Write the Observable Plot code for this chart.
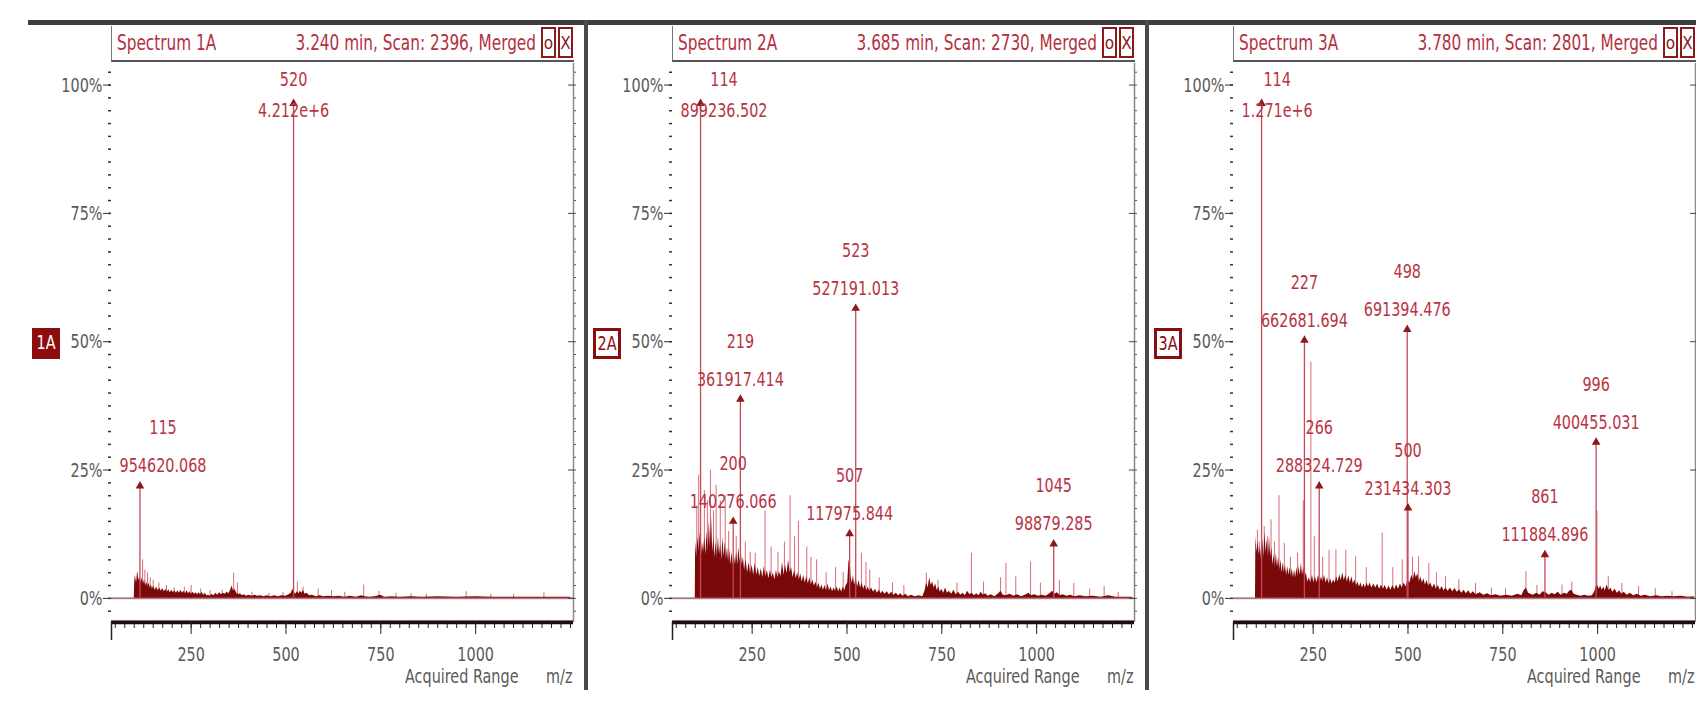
<!DOCTYPE html>
<html>
<head>
<meta charset="utf-8">
<script src="https://cdn.jsdelivr.net/npm/d3@7"></script>
<script src="https://cdn.jsdelivr.net/npm/@observablehq/plot@0.6"></script>
<style>
  body { margin: 0; background: #fff; }
  #wrap { position: relative; width: 1696px; height: 706px; overflow: hidden; background: #fff; }
  .topbar { position: absolute; left: 28px; right: 0; top: 20px; height: 5px; background: #3c3c3c; }
  .sep { position: absolute; top: 20px; height: 670px; width: 4px; background: #4a4a4a; }
  .panel { position: absolute; top: 0; width: 562px; height: 706px; }
  .panel svg { position: absolute; left: 0; top: 0; overflow: visible; }
  .hdr { position: absolute; left: 90px; width: 462px; top: 26px; height: 34px;
         border-left: 1px solid #777; border-bottom: 2px solid #555; color: #b3303e; }
  .hdr .l, .hdr .r { position: absolute; top: 6px; display: inline-block; transform: scaleY(1.25); }
  .hdr .l { left: 5px; transform-origin: left center; }
  .hdr .r { right: 38px; transform-origin: right center; }
  .hdr .b { position: absolute; top: 1px; width: 15px; height: 31px; border: 2px solid #8b1a1a;
            color: #8b1a1a; text-align: center; line-height: 28px; box-sizing: border-box; }
  .tag { position: absolute; left: 11px; top: 328px; width: 28px; height: 31px; box-sizing: border-box;
         text-align: center; line-height: 29px; }
  .tag span { display: inline-block; transform: scaleY(1.25); }
  .tag.fill { background: #8b0d0d; color: #fff; }
  .tag.open { background: #fff; color: #8b0d0d; border: 3px solid #8b0d0d; line-height: 25px; }
</style>
</head>
<body>
<div id="wrap"></div>
<script>
// ---------- data ----------
const panelNames = ["Spectrum 1A", "Spectrum 2A", "Spectrum 3A"];
const panelInfo = ["3.240 min, Scan: 2396, Merged", "3.685 min, Scan: 2730, Merged", "3.780 min, Scan: 2801, Merged"];
const panelTags = ["1A", "2A", "3A"];
const yTicks = [0, 25, 50, 75, 100];
const xTicks = [250, 500, 750, 1000];
const xDomain = [40, 1258];
const yDomain = [-4.7, 104.2];

// labelled peaks: m/z, relative height (%), intensity label
const peaks1 = [
  {mz: 520, pct: 96.4, inten: "4.212e+6"},
  {mz: 115, pct: 21.9, inten: "954620.068"}
];
const peaks2 = [
  {mz: 114, pct: 96.4, inten: "899236.502"},
  {mz: 219, pct: 38.8, inten: "361917.414"},
  {mz: 200, pct: 15.0, inten: "140276.066"},
  {mz: 523, pct: 56.5, inten: "527191.013"},
  {mz: 507, pct: 12.6, inten: "117975.844"},
  {mz: 1045, pct: 10.6, inten: "98879.285"}
];
const peaks3 = [
  {mz: 114, pct: 96.4, inten: "1.271e+6"},
  {mz: 227, pct: 50.3, inten: "662681.694"},
  {mz: 266, pct: 21.9, inten: "288324.729"},
  {mz: 498, pct: 52.4, inten: "691394.476"},
  {mz: 500, pct: 17.6, inten: "231434.303"},
  {mz: 861, pct: 8.5, inten: "111884.896"},
  {mz: 996, pct: 30.4, inten: "400455.031"}
];

// dense low-level signal (m/z, %)
const noise1 = [[100,0],[101,3],[103,4.5],[106,3],[109,5],[112,3.5],[115,4.2],[118,3],[121,4],[124,2.8],[127,3.6],[130,2.4],[133,3.2],[136,2.2],[139,3],[142,2],[145,2.6],[148,1.8],[151,2.4],[155,1.6],[159,2.2],[163,1.5],[167,2],[171,1.4],[175,1.9],[179,1.3],[183,1.8],[187,1.2],[191,1.7],[195,1.1],[199,1.6],[203,1.1],[207,1.5],[211,1],[215,1.5],[219,1],[223,1.6],[227,1],[231,1.4],[235,0.9],[239,1.5],[243,0.9],[247,1.3],[251,0.8],[255,1.2],[259,0.8],[263,1.1],[267,0.7],[271,1.1],[275,0.7],[279,1.2],[283,0.6],[287,1],[291,0.5],[296,0.6],[300,0.4],[305,0.8],[310,0.5],[315,1],[320,0.6],[325,1.1],[330,0.7],[335,1],[340,0.8],[345,1.2],[350,0.9],[354,1.6],[358,2.4],[362,1.4],[366,1.8],[370,1],[375,0.7],[380,0.9],[385,0.5],[390,0.7],[396,0.4],[402,0.6],[410,0.4],[418,0.6],[426,0.4],[434,0.5],[442,0.3],[450,0.5],[460,0.3],[470,0.5],[480,0.3],[490,0.5],[500,0.4],[508,0.7],[514,1],[518,1.8],[522,1.2],[526,0.8],[530,1.3],[534,0.9],[538,1.4],[542,1],[546,1.6],[550,0.8],[556,1],[562,0.5],[570,0.6],[580,0.3],[590,0.5],[600,0.3],[612,0.4],[625,0.3],[640,0.4],[655,0.2],[670,0.4],[685,0.2],[700,0.5],[708,0.3],[720,0.2],[735,0.3],[750,0.6],[760,0.2],[780,0.3],[800,0.2],[830,0.3],[860,0.2],[900,0.3],[950,0.2],[1000,0.3],[1050,0.2],[1100,0.2],[1150,0.2],[1200,0.2],[1250,0.2]];
const noise2 = [[100,0],[101,11],[104,8],[107,12],[110,9],[113,13],[116,8],[119,11],[122,9],[125,12],[128,8.5],[131,13],[134,9],[137,15],[140,10],[143,16],[146,9],[149,12],[152,8],[155,11],[158,8],[161,12],[164,8.5],[167,10.5],[170,7.5],[173,12],[176,8],[179,11],[182,7.5],[185,10],[188,7],[191,9.5],[194,6.5],[197,9],[200,6.5],[203,8.5],[206,6.5],[209,9],[212,6.5],[215,10],[218,7],[221,9.5],[224,6.5],[227,8],[230,5.5],[234,7.5],[238,5],[242,7],[246,4.8],[250,6.5],[254,4.5],[258,6.8],[262,4.5],[266,6],[270,4.2],[274,5.8],[278,4],[282,6.2],[286,4.2],[290,5.5],[294,3.8],[298,5.5],[302,4],[306,5],[310,3.6],[314,5.5],[318,4],[322,5.2],[326,4.2],[330,7],[334,4.5],[338,6.5],[342,4.8],[346,7.5],[350,5],[354,6],[358,4],[362,5.5],[366,3.8],[370,5],[374,3.5],[378,4.8],[382,3.2],[386,4.5],[390,3],[394,4.2],[398,2.8],[402,4],[406,2.6],[410,3.6],[414,2.4],[418,3.2],[422,2],[426,3],[430,1.8],[434,2.6],[438,1.6],[442,2.5],[446,1.5],[450,2.8],[454,1.5],[458,2.2],[462,1.3],[466,2],[470,1.4],[474,2.2],[478,1.3],[482,2],[486,1.2],[490,2.2],[494,1.5],[498,2.5],[502,3],[505,7],[508,8],[511,4],[514,3],[517,4.5],[520,2.5],[524,4],[528,2.2],[532,3.5],[536,2],[540,3],[544,1.8],[548,2.6],[552,1.5],[556,2.2],[560,1.4],[565,2],[570,1.2],[575,1.8],[580,1],[585,1.6],[590,0.9],[595,1.4],[600,0.8],[606,1.3],[612,0.7],[618,1.2],[624,0.6],[630,1],[636,0.5],[642,0.9],[648,0.4],[655,0.8],[662,0.3],[670,0.6],[680,0.3],[690,0.5],[700,0.3],[706,1.5],[710,3],[714,2],[718,4],[722,2.5],[726,3.2],[730,2],[734,2.8],[738,1.5],[742,2.2],[746,1.2],[750,1.8],[755,1],[760,2],[765,1],[770,1.4],[776,0.8],[782,1.6],[788,0.7],[794,1.2],[800,0.6],[806,1],[812,0.5],[818,1.4],[824,0.7],[830,1],[836,0.5],[842,0.9],[848,0.5],[854,1.2],[860,0.6],[866,0.9],[872,0.4],[880,0.7],[890,0.3],[900,0.9],[906,1.4],[912,0.6],[920,0.5],[930,0.8],[940,0.4],[950,0.7],[960,0.3],[970,0.6],[980,1],[986,0.5],[995,0.7],[1005,0.4],[1015,0.6],[1025,0.4],[1035,0.9],[1042,1.4],[1048,0.8],[1055,1.1],[1062,0.5],[1070,0.7],[1080,0.4],[1090,0.6],[1100,0.3],[1115,0.5],[1130,0.3],[1150,0.4],[1170,0.2],[1190,0.5],[1210,0.2],[1230,0.2],[1252,0.2]];
const noise3 = [[98,0],[99,12],[102,9],[105,11],[108,8.5],[111,10],[114,7.5],[117,11.5],[120,8],[123,13],[126,9],[129,11.5],[132,8],[135,12],[138,8],[141,10],[144,6.5],[147,8.5],[150,6],[153,8.8],[156,6],[159,8],[162,5.5],[165,7.5],[168,5],[171,7],[174,5],[177,6.5],[180,4.5],[183,6.2],[186,4.5],[189,6],[192,4.2],[195,5.8],[198,4],[201,5.5],[204,4],[207,6],[210,4.2],[213,6.2],[216,4.5],[219,6.8],[222,4.5],[225,6],[228,3.8],[232,5],[236,3.2],[240,4],[244,3],[248,4.5],[252,3],[256,4.2],[260,3],[264,4.5],[268,3],[272,4.2],[276,3.2],[280,4.5],[284,3],[288,4],[292,2.8],[296,3.8],[300,2.8],[304,3.6],[308,3],[312,4.2],[316,3.2],[320,4.6],[324,3.5],[328,5],[332,3.5],[336,4.5],[340,3.2],[344,4.4],[348,3],[352,4.2],[356,2.8],[360,3.6],[364,2.4],[368,3.2],[372,2.2],[376,3],[380,2],[384,2.8],[388,2],[392,3],[396,2.2],[400,3],[405,2],[410,2.8],[415,2],[420,2.8],[425,1.8],[430,2.6],[435,1.8],[440,2.5],[445,1.6],[450,2.4],[455,1.6],[460,2.5],[465,1.7],[470,2.6],[475,1.8],[480,2.8],[485,2],[490,3],[495,2.2],[500,3.5],[505,3],[510,4.5],[514,3.5],[518,5.2],[522,4],[526,4.8],[530,3.2],[534,4.2],[538,3],[542,3.8],[546,2.6],[550,3.5],[555,2.4],[560,3],[565,2],[570,2.8],[575,1.8],[580,2.5],[585,1.6],[590,2.3],[595,1.5],[600,2],[606,1.4],[612,2],[618,1.3],[624,1.9],[630,1.2],[636,1.7],[642,1],[648,1.6],[654,0.9],[660,1.5],[666,0.8],[672,1.3],[680,0.7],[690,1.1],[700,0.6],[710,0.9],[720,0.5],[732,0.7],[745,0.4],[760,0.6],[775,0.4],[790,0.8],[800,0.5],[806,1.5],[812,2],[818,1],[824,0.8],[830,0.6],[840,1],[848,0.6],[856,1.3],[864,1.1],[872,0.6],[880,1],[888,0.7],[896,1.2],[904,0.6],[912,1],[920,0.8],[926,1.4],[932,1.6],[938,0.8],[946,0.6],[956,0.4],[966,0.6],[976,0.4],[986,0.5],[992,1.2],[996,2.2],[1000,2.5],[1004,1.8],[1008,2.4],[1012,1.6],[1016,2.2],[1020,1.5],[1025,2.6],[1030,1.5],[1035,2],[1040,1.2],[1046,1.8],[1052,1],[1058,1.5],[1064,0.8],[1070,1.2],[1078,0.6],[1086,1],[1095,0.5],[1105,0.8],[1115,0.4],[1125,0.6],[1140,0.3],[1155,0.5],[1170,0.3],[1185,0.4],[1200,0.3],[1220,0.4],[1240,0.2],[1255,0.3]];

// individual sticks rising above the dense signal (m/z, %)
const sticks1 = [[108,5],[122,7.5],[128,5.5],[135,5],[142,4],[150,3.5],[165,3],[185,2.5],[205,2],[232,2.2],[250,2.5],[275,1.8],[300,1.5],[332,1.6],[362,4.9],[372,3],[410,1.2],[455,1],[492,1.2],[530,3.2],[545,2.2],[585,1.8],[620,1.5],[655,1.2],[705,2.6],[745,1.4],[790,1],[830,0.9],[870,0.8],[975,1.3],[1040,0.8],[1100,0.8],[1180,1.1]];
const sticks2 = [[104,18],[109,24],[124,21],[132,19],[140,25],[148,17],[155,22],[166,19],[179,20],[188,13],[208,12],[232,11],[245,9],[258,8.8],[284,17],[300,10],[318,9],[335,11],[350,20],[362,12],[372,15],[394,10],[405,8],[420,7.5],[445,5],[470,6],[490,5],[538,8.8],[550,7],[560,5.5],[585,4],[620,3],[650,2.5],[709,4.9],[740,3.5],[790,3],[828,8.8],[860,3.2],[905,4],[919,6.8],[945,4.2],[984,7.1],[1010,3],[1060,3.5],[1098,2.9],[1140,1.8],[1178,2.3],[1215,1.2]];
const sticks3 = [[103,13.3],[108,11],[121,14],[130,12],[139,15.3],[148,11],[160,20],[174,10.7],[190,8],[209,8.8],[224,19],[244,46],[253,12],[275,8],[292,9.4],[310,9.4],[336,9.4],[362,8.1],[390,6],[432,12.7],[460,6],[485,7.5],[512,8],[528,8.1],[555,6.8],[575,5],[599,4.2],[634,3.6],[678,2.9],[720,2],[757,1.9],[811,5.2],[840,2.5],[906,2.6],[932,3.2],[998,17],[1028,4.2],[1064,2.9],[1108,2.3],[1152,1.9],[1196,1.3]];

const panelPeaks = [peaks1, peaks2, peaks3];
const panelNoise = [noise1, noise2, noise3];
const panelSticks = [sticks1, sticks2, sticks3];

// ---------- font choice ----------
function hasFont(name) {
  const c = document.createElement("canvas").getContext("2d");
  const s = "mmmmmlli1234567890WwQq";
  c.font = "40px monospace"; const w0 = c.measureText(s).width;
  c.font = `40px "${name}", monospace`; const w1 = c.measureText(s).width;
  return w0 !== w1;
}
let FONT, FS, HFS;
if (hasFont("Liberation Sans Narrow")) { FONT = '"Liberation Sans Narrow", sans-serif'; FS = 18; HFS = 19; }
else if (hasFont("DejaVu Sans Condensed")) { FONT = '"DejaVu Sans Condensed", sans-serif'; FS = 16; HFS = 17; }
else { FONT = '"Liberation Sans", Arial, sans-serif'; FS = 16.5; HFS = 17.5; }
const SY = 1.25; // vertical stretch of the tall, narrow instrument font

const measureCtx = document.createElement("canvas").getContext("2d");
function textW(s) { measureCtx.font = `${FS}px ${FONT}`; return measureCtx.measureText(s).width; }

const LABEL = "#b83444";
const STICK = "#d96b79";
const DARK = "#7a0a0a";
const GRAY = "#5a5a5a";

const W = 562, H = 706, ML = 90, MR = 10, MT = 63, MB = 84;
const xPix = d3.scaleLinear(xDomain, [ML, W - MR]);

function labelMarks(peaks) {
  return peaks.flatMap(d => {
    const w = Math.max(textW(String(d.mz)), textW(d.inten));
    const px = xPix(d.mz);
    let shift = 0;
    if (px - w / 2 < ML + 8) shift = ML + 8 - (px - w / 2);
    if (px + w / 2 > W - MR - 4) shift = (W - MR - 4) - (px + w / 2);
    const base = {x: "mz", fill: LABEL, fontSize: FS, dx: shift, lineAnchor: "middle"};
    if (d.pct > 85) {
      return [
        Plot.text([d], {...base, frameAnchor: "top", text: e => String(e.mz), dy: 16}),
        Plot.text([d], {...base, frameAnchor: "top", text: "inten", dy: 47})
      ];
    }
    return [
      Plot.text([d], {...base, y: "pct", text: e => String(e.mz), dy: -58}),
      Plot.text([d], {...base, y: "pct", text: "inten", dy: -20})
    ];
  });
}

function makePlot(i) {
  const peaks = panelPeaks[i];
  const noise = panelNoise[i].map(([mz, pct]) => ({mz, pct}));
  const sticks = panelSticks[i].map(([mz, pct]) => ({mz, pct}));
  return Plot.plot({
    width: W, height: H,
    marginLeft: ML, marginRight: MR, marginTop: MT, marginBottom: MB,
    x: {domain: xDomain, label: null},
    y: {domain: yDomain, label: null},
    style: {fontFamily: FONT, fontSize: FS + "px", color: GRAY, background: "transparent", overflow: "visible"},
    marks: [
      Plot.ruleY([0], {stroke: "#9a9a9a", strokeWidth: 2}),
      Plot.ruleX([xDomain[1]], {stroke: "#8a8a8a", strokeWidth: 1.5}),
      Plot.ruleY([yDomain[0] + 0.4], {stroke: "#e07a86", strokeWidth: 1}),
      Plot.ruleX(sticks, {x: "mz", y1: 0, y2: "pct", stroke: STICK, strokeWidth: 1}),
      Plot.areaY(noise, {x: "mz", y: "pct", fill: DARK}),
      Plot.ruleY([0], {stroke: "#d0606e", strokeWidth: 0.8}),
      Plot.ruleX(peaks, {x: "mz", y1: 0, y2: "pct", stroke: "#c8485a", strokeWidth: 1.3}),
      Plot.dot(peaks, {x: "mz", y: "pct", symbol: "triangle", r: 3.2, fill: "#8b1a1a", stroke: "none"}),
      ...labelMarks(peaks),
      // x axis
      Plot.ruleY([yDomain[0]], {stroke: "#111", strokeWidth: 3.5}),
      Plot.axisX({ticks: d3.range(50, 1251, 25), tickSize: 6, tickFormat: () => "", stroke: "#222", label: null}),
      Plot.axisX({ticks: [xDomain[0]], tickSize: 18, tickFormat: () => "", stroke: "#222", strokeWidth: 1.5, label: null}),
      Plot.axisX({ticks: xTicks, tickSize: 12, tickPadding: 14, tickFormat: d => String(d), stroke: "#222", fill: GRAY, fontSize: FS, label: null}),
      Plot.text(["Acquired Range"], {frameAnchor: "bottom-right", lineAnchor: "middle", dx: -55, dy: 54, fill: GRAY, fontSize: FS}),
      Plot.text(["m/z"], {frameAnchor: "bottom-right", lineAnchor: "middle", dx: -1, dy: 54, fill: GRAY, fontSize: FS}),
      // y axis
      Plot.axisY({ticks: d3.range(-2.5, 104, 2.5), tickSize: 3, tickFormat: () => "", stroke: "#333", strokeWidth: 1.5, label: null}),
      Plot.axisY({ticks: yTicks, tickSize: 8, tickPadding: 1, tickFormat: d => d + "%", stroke: "#333", fill: GRAY, fontSize: FS, label: null}),
      Plot.axisY({anchor: "right", ticks: yTicks, tickSize: -6, tickFormat: () => "", stroke: "#444", label: null}),
      Plot.axisY({anchor: "right", ticks: d3.range(-2.5, 104, 2.5), tickSize: 2, tickFormat: () => "", stroke: "#555", label: null})
    ]
  });
}

// stretch every svg text vertically about its own centre
function stretchTexts(svg) {
  svg.querySelectorAll("text").forEach(el => {
    if (!el.textContent) return;
    const bb = el.getBBox();
    const cx = bb.x + bb.width / 2, cy = bb.y + bb.height / 2;
    const t = el.getAttribute("transform") || "";
    el.setAttribute("transform", `${t} translate(${cx},${cy}) scale(1,${SY}) translate(${-cx},${-cy})`);
  });
}

// ---------- build ----------
const wrap = document.getElementById("wrap");
wrap.style.fontFamily = FONT;
const topBar = document.createElement("div"); topBar.className = "topbar"; wrap.appendChild(topBar);

const panelLeft = [21, 582, 1143];

for (let i = 0; i < 3; i++) {
  const p = document.createElement("div");
  p.className = "panel";
  p.style.left = panelLeft[i] + "px";
  const svg = makePlot(i);
  p.appendChild(svg);
  const h = document.createElement("div");
  h.className = "hdr";
  h.style.fontSize = HFS + "px";
  h.innerHTML = `<span class="l">${panelNames[i]}</span><span class="r">${panelInfo[i]}</span>` +
    `<span class="b" style="right:18px">o</span><span class="b" style="right:1px">X</span>`;
  p.appendChild(h);
  const t = document.createElement("div");
  t.className = "tag " + (i === 0 ? "fill" : "open");
  t.style.fontSize = FS + "px";
  t.innerHTML = `<span>${panelTags[i]}</span>`;
  p.appendChild(t);
  wrap.appendChild(p);
  stretchTexts(svg);
}
[584, 1145].forEach(x => {
  const s = document.createElement("div"); s.className = "sep"; s.style.left = x + "px"; wrap.appendChild(s);
});
</script>
</body>
</html>
